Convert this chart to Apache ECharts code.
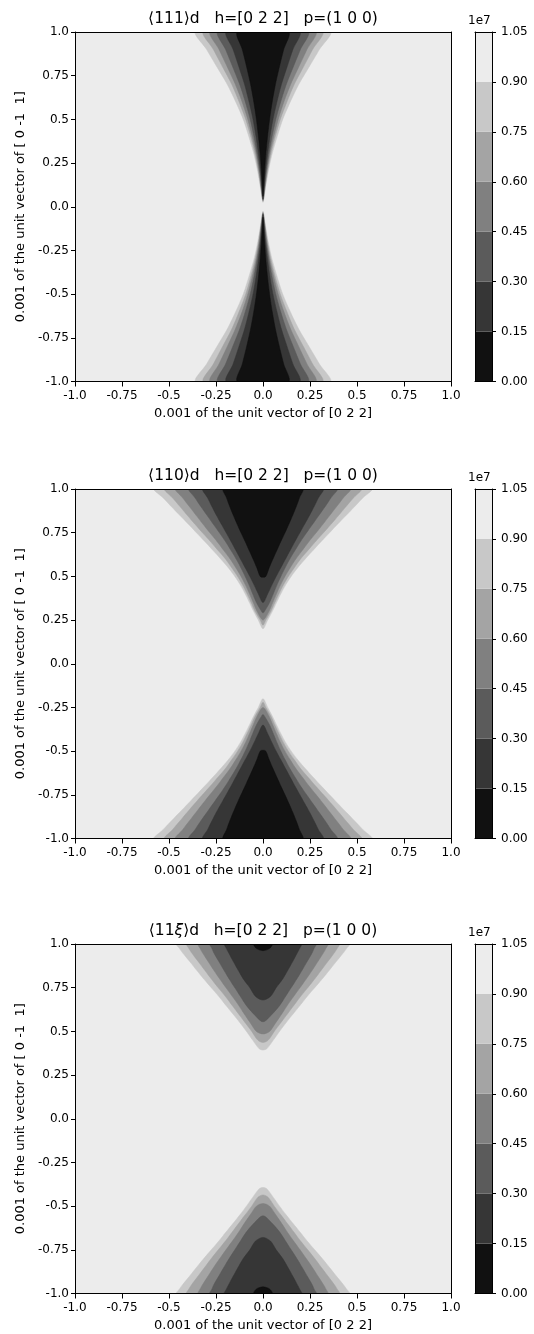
<!DOCTYPE html>
<html><head><meta charset="utf-8">
<script src="https://cdn.jsdelivr.net/npm/echarts@6/dist/echarts.min.js"></script>
<style>html,body{margin:0;padding:0;background:#fff}#c{width:534px;height:1334px}</style>
</head><body><div id="c"></div>
<script>
// ---- contour levels and colours ----
const levels = [0.15, 0.3, 0.45, 0.6, 0.75, 0.9];           // x 1e7
const bandEdges = [0, 0.15, 0.3, 0.45, 0.6, 0.75, 0.9, 1.05];
const bandColors = ['#111111','#363636','#5b5b5b','#808080','#a4a4a4','#c8c8c8','#ececec'];
const xTickLabels = ['-1.0','-0.75','-0.5','-0.25','0.0','0.25','0.5','0.75','1.0'];
const yTickLabels = ['-1.0','-0.75','-0.5','-0.25','0.0','0.25','0.5','0.75','1.0'];
const cbTickLabels = ['0.00','0.15','0.30','0.45','0.60','0.75','0.90','1.05'];
const titles = ['⟨111⟩d   h=[0 2 2]   p=(1 0 0)', '⟨110⟩d   h=[0 2 2]   p=(1 0 0)', '⟨11{i|ξ}⟩d   h=[0 2 2]   p=(1 0 0)'];
const xName = '0.001 of the unit vector of [0 2 2]';
const yName = '0.001 of the unit vector of [ 0 -1  1]';

// ---- plot 1 : half-widths |x| of each level boundary at |y| (symmetric) ----
const Y1 = [0.05, 0.1, 0.2, 0.3, 0.4, 0.5, 0.6, 0.7, 0.8, 0.9, 1.0];
const tips1 = [0.06, 0.045, 0.04, 0.035, 0.03, 0.025];
const p1L015 = [null, .003, .008, .015, .024, .035, .049, .066, .087, .110, .135];
const p1L030 = [.001, .005, .013, .024, .037, .053, .074, .098, .128, .159, .193];
const p1L045 = [.002, .007, .017, .031, .048, .068, .094, .124, .161, .199, .238];
const p1L060 = [.003, .009, .021, .036, .057, .081, .111, .147, .190, .234, .278];
const p1L075 = [.004, .010, .024, .042, .065, .092, .127, .166, .215, .264, .314];
const p1L090 = [.005, .012, .028, .048, .075, .105, .145, .190, .245, .300, .355];

// ---- plot 2 ----
const Y2 = [0.25, 0.3, 0.35, 0.4, 0.45, 0.5, 0.55, 0.6, 0.65, 0.7, 0.75, 0.8, 0.85, 0.9, 0.95, 1.0];
const tips2 = [0.495, 0.35, 0.29, 0.25, 0.22, 0.20];
const p2L015 = [null, null, null, null, null, .015, .033, .053, .074, .095, .117, .138, .158, .177, .194, .210];
const p2L030 = [null, null, null, .025, .047, .070, .095, .120, .145, .170, .196, .222, .248, .272, .295, .318];
const p2L045 = [null, .008, .035, .055, .074, .095, .118, .143, .171, .200, .232, .265, .298, .331, .362, .392];
const p2L060 = [null, .032, .052, .072, .093, .117, .145, .175, .210, .245, .283, .320, .356, .392, .428, .463];
const p2L075 = [.015, .042, .063, .085, .108, .135, .167, .200, .240, .280, .322, .363, .403, .442, .482, .521];
const p2L090 = [.025, .050, .072, .095, .120, .150, .185, .225, .267, .310, .354, .398, .443, .488, .532, .577];

// ---- plot 3 ----
const Y3 = [0.4, 0.45, 0.5, 0.55, 0.6, 0.65, 0.7, 0.75, 0.8, 0.85, 0.9, 0.95, 0.975, 1.0];
const tips3 = [0.962, 0.679, 0.555, 0.485, 0.436, 0.393];
const p3L015 = [null, null, null, null, null, null, null, null, null, null, null, null, .036, .048];
const p3L030 = [null, null, null, null, null, null, .040, .070, .105, .132, .158, .183, .195, .204];
const p3L045 = [null, null, null, null, .050, .090, .120, .150, .180, .208, .235, .262, .272, .282];
const p3L060 = [null, null, .035, .068, .100, .130, .163, .197, .230, .262, .292, .322, .335, .344];
const p3L075 = [null, .028, .060, .095, .130, .165, .200, .238, .275, .310, .345, .380, .395, .406];
const p3L090 = [.020, .055, .088, .123, .160, .198, .235, .275, .315, .353, .390, .428, .445, .460];

const plots = [
  {Y: Y1, tips: tips1, W: [p1L015, p1L030, p1L045, p1L060, p1L075, p1L090]},
  {Y: Y2, tips: tips2, W: [p2L015, p2L030, p2L045, p2L060, p2L075, p2L090]},
  {Y: Y3, tips: tips3, W: [p3L015, p3L030, p3L045, p3L060, p3L075, p3L090]}
];

// ---- layout ----
const FONT = 'DejaVu Sans';
const plotTops = [32, 489, 944];
const PH = 349.5, PL = 75, PW = 376, CBL = 475, CBW = 17;

const chart = echarts.init(document.getElementById('c'), null, {renderer: 'canvas'});
const grid = [], xAxis = [], yAxis = [], series = [], title = [], graphic = [];
const lblStyle = {color: '#000', fontFamily: FONT, fontSize: 12};
const nameStyle = {color: '#000', fontFamily: FONT, fontSize: 13};
const lineStyle = {lineStyle: {color: '#000', width: 1}};

function makeRender(p) {
  return function (params, api) {
    const k = api.value(2);
    const w = p.W[k], tip = p.tips[k];
    const children = [];
    [1, -1].forEach(function (s) {
      const right = [], left = [];
      for (let i = 0; i < p.Y.length; i++) {
        if (w[i] == null) continue;
        right.push(api.coord([w[i], s * p.Y[i]]));
        left.push(api.coord([-w[i], s * p.Y[i]]));
      }
      const pts = [api.coord([0, s * tip])].concat(right, left.reverse());
      children.push({type: 'polygon', shape: {points: pts, smooth: 0.3},
        style: {fill: bandColors[k], stroke: bandColors[k], lineWidth: 0.5}});
    });
    return {type: 'group', children: children};
  };
}

plots.forEach(function (p, i) {
  const top = plotTops[i];
  const g = grid.length;
  grid.push({left: PL, top: top, width: PW, height: PH, show: true, backgroundColor: bandColors[6], borderWidth: 0});
  grid.push({left: CBL, top: top, width: CBW, height: PH, show: false});
  const xb = xAxis.length;
  xAxis.push({gridIndex: g, type: 'value', min: -1, max: 1, interval: 0.25, position: 'bottom', z: 5,
    axisLine: {show: true, onZero: false, lineStyle: {color: '#000', width: 1}},
    axisTick: {show: true, length: 5, lineStyle: {color: '#000'}},
    axisLabel: Object.assign({margin: 8, showMinLabel: true, showMaxLabel: true,
      formatter: function (v) { return xTickLabels[Math.round((v + 1) / 0.25)]; }}, lblStyle),
    splitLine: {show: false},
    name: xName, nameLocation: 'middle', nameGap: 26, nameTextStyle: nameStyle});
  xAxis.push({gridIndex: g, type: 'value', min: -1, max: 1, position: 'top', z: 5,
    axisLine: Object.assign({show: true, onZero: false}, lineStyle), axisTick: {show: false}, axisLabel: {show: false}, splitLine: {show: false}});
  const yl = yAxis.length;
  yAxis.push({gridIndex: g, type: 'value', min: -1, max: 1, interval: 0.25, position: 'left', z: 5,
    axisLine: {show: true, onZero: false, lineStyle: {color: '#000', width: 1}},
    axisTick: {show: true, length: 4, lineStyle: {color: '#000'}},
    axisLabel: Object.assign({margin: 6, showMinLabel: true, showMaxLabel: true,
      formatter: function (v) { return yTickLabels[Math.round((v + 1) / 0.25)]; }}, lblStyle),
    splitLine: {show: false},
    name: yName, nameLocation: 'middle', nameGap: 48, nameRotate: 90, nameTextStyle: nameStyle});
  yAxis.push({gridIndex: g, type: 'value', min: -1, max: 1, position: 'right', z: 5,
    axisLine: Object.assign({show: true, onZero: false}, lineStyle), axisTick: {show: false}, axisLabel: {show: false}, splitLine: {show: false}});
  // colorbar axes
  const cxb = xAxis.length;
  xAxis.push({gridIndex: g + 1, type: 'value', min: 0, max: 1, position: 'bottom', z: 5,
    axisLine: Object.assign({show: true, onZero: false}, lineStyle), axisTick: {show: false}, axisLabel: {show: false}, splitLine: {show: false}});
  xAxis.push({gridIndex: g + 1, type: 'value', min: 0, max: 1, position: 'top', z: 5,
    axisLine: Object.assign({show: true, onZero: false}, lineStyle), axisTick: {show: false}, axisLabel: {show: false}, splitLine: {show: false}});
  const cyr = yAxis.length;
  yAxis.push({gridIndex: g + 1, type: 'value', min: 0, max: 1.05, interval: 0.15, position: 'right', z: 5,
    axisLine: {show: true, onZero: false, lineStyle: {color: '#000', width: 1}},
    axisTick: {show: true, length: 4, lineStyle: {color: '#000'}},
    axisLabel: Object.assign({margin: 9, showMinLabel: true, showMaxLabel: true,
      formatter: function (v) { return cbTickLabels[Math.round(v / 0.15)]; }}, lblStyle),
    splitLine: {show: false}});
  yAxis.push({gridIndex: g + 1, type: 'value', min: 0, max: 1.05, position: 'left', z: 5,
    axisLine: Object.assign({show: true, onZero: false}, lineStyle), axisTick: {show: false}, axisLabel: {show: false}, splitLine: {show: false}});

  series.push({type: 'custom', xAxisIndex: xb, yAxisIndex: yl, clip: true, silent: true,
    renderItem: makeRender(p),
    encode: {x: 0, y: 1},
    data: [5, 4, 3, 2, 1, 0].map(function (k) { return [0, 0, k]; })});
  series.push({type: 'custom', xAxisIndex: cxb, yAxisIndex: cyr, clip: true, silent: true,
    renderItem: function (params, api) {
      const k = api.value(2);
      const a = api.coord([0, bandEdges[k]]), b = api.coord([1, bandEdges[k + 1]]);
      return {type: 'rect', shape: {x: a[0], y: b[1], width: b[0] - a[0], height: a[1] - b[1]}, style: {fill: bandColors[k]}};
    },
    encode: {x: 0, y: 1},
    data: bandColors.map(function (c, k) { return [0, 0, k]; })});

  title.push({text: titles[i], left: PL + PW / 2, top: top - 21, textAlign: 'center', padding: 0,
    textStyle: {fontFamily: FONT, fontSize: 15.5, fontWeight: 'normal', color: '#000',
      rich: {i: {fontFamily: FONT, fontSize: 15.5, fontStyle: 'italic', color: '#000'}}}});
  graphic.push({type: 'text', left: 468, top: top - 17, style: {text: '1e7', font: '12px "DejaVu Sans"', fill: '#000'}});
});

chart.setOption({
  backgroundColor: '#fff', animation: false,
  title: title, grid: grid, xAxis: xAxis, yAxis: yAxis, series: series, graphic: graphic
});
</script></body></html>
